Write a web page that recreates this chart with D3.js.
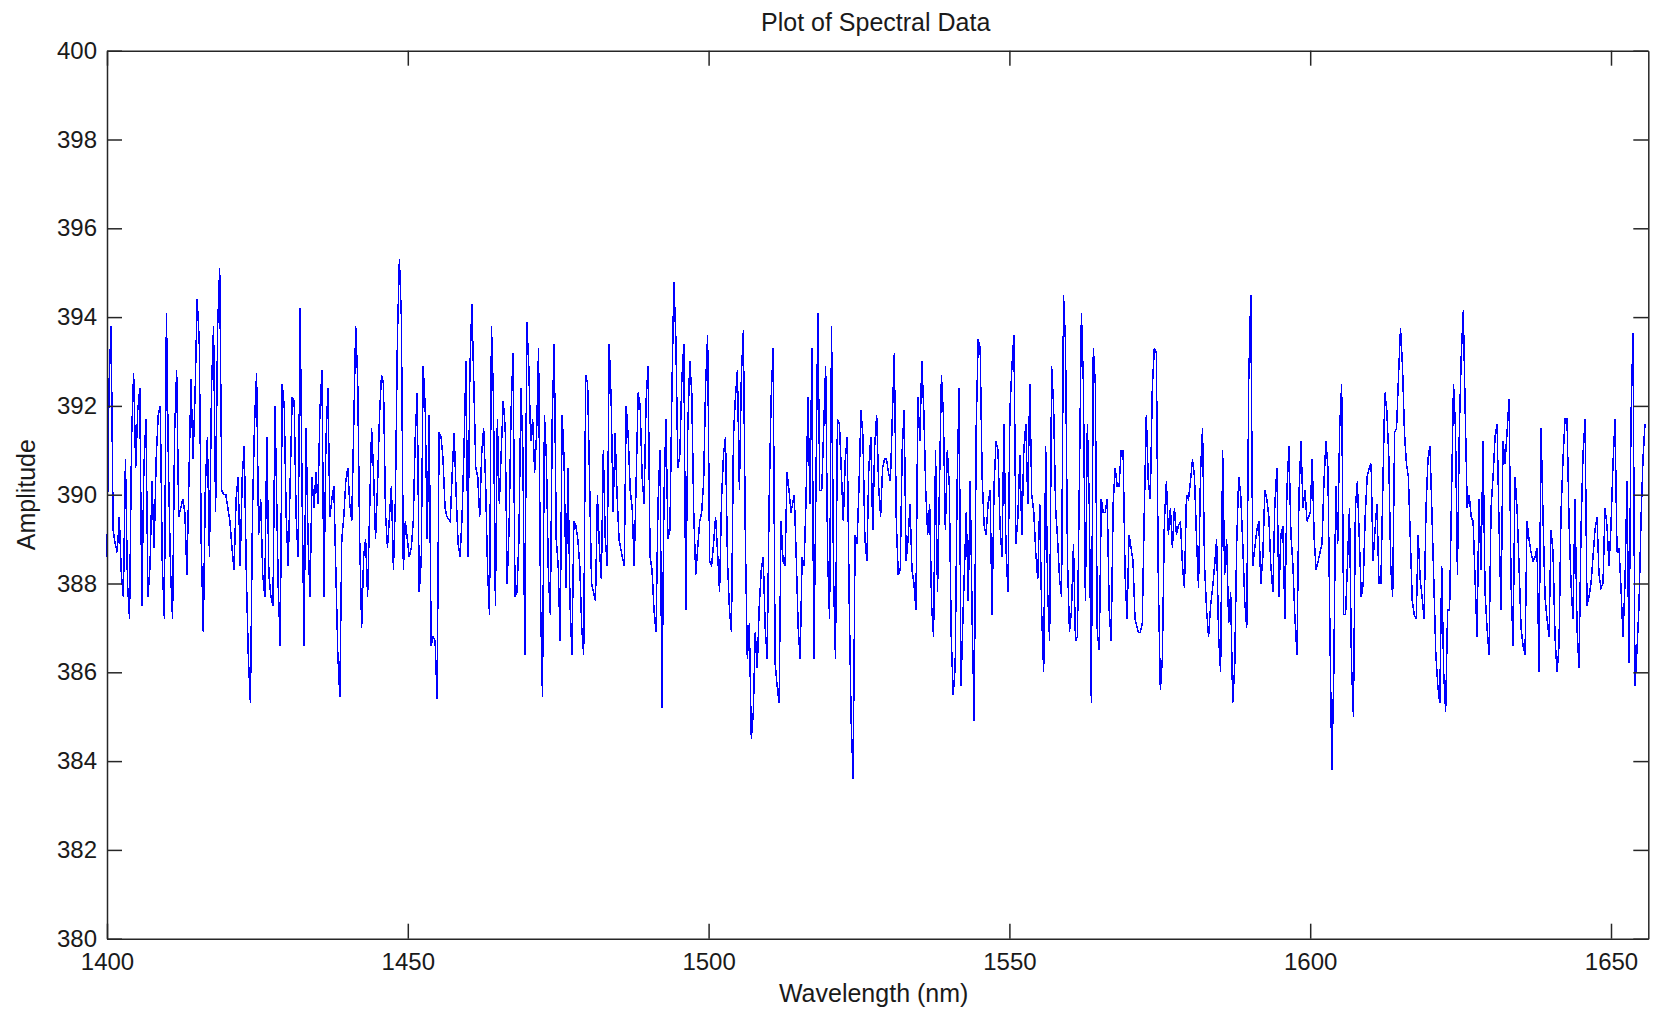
<!DOCTYPE html>
<html>
<head>
<meta charset="utf-8">
<script src="https://cdn.jsdelivr.net/npm/d3@7"></script>
<style>
  body { margin: 0; background: #fff; }
  text { font-family: "Liberation Sans", Arial, sans-serif; fill: #1a1a1a; }
</style>
</head>
<body>
<div id="chart"></div>
<script>
var width = 1658,
    height = 1014;

// amplitude readings, one array per ~28.6 nm stretch of the spectrum
var amp1400 = [388.6, 392.5, 393.8, 389.2, 388.9, 388.7, 389.5, 388.2, 387.7, 390.8, 388.0, 387.2, 391.3, 392.75, 390.6, 391.9, 392.4, 387.5, 390.6, 391.7, 387.7, 388.4, 390.3, 388.8, 390.8, 391.8, 392.0, 388.4, 387.2, 394.1, 390.6, 388.3, 387.2, 391.4, 392.8, 389.5, 389.7, 389.9, 389.6, 388.2, 390.4, 392.6, 390.8, 392.3, 394.4, 393.5, 388.9, 386.9, 390.2, 391.3, 388.6, 392.4, 393.8, 389.6, 393.8, 395.1, 390.1, 390.0, 390.0, 389.7, 389.4, 388.8, 388.3, 389.9, 390.4, 388.4, 390.4, 391.1, 388.2, 386.3, 385.3, 389.6, 391.6, 392.75, 389.1, 389.9, 388.2, 387.7, 391.3, 388.2, 387.7, 387.5, 392.0];
var amp1428 = [387.9, 386.6, 392.5, 392.0, 389.5, 388.4, 390.3, 392.2, 392.1, 389.5, 388.6, 394.2, 390.0, 386.6, 391.5, 389.0, 387.7, 390.4, 389.7, 390.5, 389.8, 391.9, 392.8, 387.7, 391.2, 392.4, 389.5, 389.9, 390.2, 388.3, 386.4, 385.45, 389.0, 389.5, 390.3, 390.6, 389.8, 389.4, 391.5, 393.8, 392.6, 389.0, 387.0, 388.6, 389.0, 387.7, 389.6, 391.5, 390.5, 389.0, 390.2, 391.8, 392.7, 392.5, 389.6, 388.8, 389.5, 390.2, 388.3, 389.9, 393.5, 395.3, 394.0, 388.3, 389.4, 389.0, 388.6, 388.8, 389.4, 391.3, 392.3, 387.8, 388.5, 392.9, 392.0, 389.0, 391.8, 386.6, 386.8, 386.7, 385.4, 391.4, 391.3, 390.8, 389.7, 389.5];
var amp1457 = [389.4, 390.5, 391.4, 390.0, 388.9, 388.6, 389.5, 391.0, 393.0, 388.6, 392.8, 394.3, 392.5, 390.6, 390.4, 389.5, 390.9, 391.5, 390.3, 388.3, 387.3, 393.8, 392.2, 387.5, 391.7, 389.8, 391.0, 392.1, 391.5, 388.0, 389.3, 391.9, 393.2, 387.7, 387.8, 389.0, 392.4, 391.0, 386.4, 393.9, 392.9, 391.2, 391.7, 390.5, 391.4, 393.3, 387.6, 385.45, 391.8, 390.8, 388.2, 387.3, 391.8, 393.4, 389.0, 388.4, 386.7, 391.8, 390.8, 387.9, 390.6, 387.6, 386.4, 389.4, 389.3, 389.0, 388.4, 387.0, 386.4, 392.7, 392.5, 390.3, 388.0, 387.8, 387.6, 390.0, 388.8, 388.1, 391.0, 389.0, 388.4, 393.4, 392.1, 389.6, 391.4, 390.0, 389.0];
var amp1486 = [388.6, 388.4, 392.0, 391.3, 390.1, 389.7, 388.4, 390.3, 392.3, 392.0, 390.4, 389.8, 392.1, 392.9, 388.6, 388.3, 387.4, 386.9, 389.8, 391.0, 385.2, 389.9, 391.7, 389.0, 389.2, 392.3, 394.8, 393.5, 390.6, 390.9, 392.6, 393.4, 387.4, 391.5, 393.0, 392.3, 389.6, 388.2, 388.8, 389.4, 389.6, 390.3, 392.5, 393.6, 388.5, 388.4, 388.9, 389.5, 388.7, 387.8, 389.9, 390.9, 391.3, 388.5, 387.4, 386.9, 391.3, 392.2, 392.8, 390.1, 392.7, 393.7, 389.0, 386.3, 387.1, 384.5, 385.1, 386.9, 386.1, 387.5, 388.3, 388.6, 387.0, 386.3, 389.9, 392.2, 393.3, 386.2, 385.7, 385.3, 389.4, 388.5, 388.4, 390.5, 390.1, 389.6];
var amp1514 = [390.0, 388.6, 387.0, 386.3, 388.6, 388.4, 389.9, 392.2, 389.8, 393.3, 386.3, 390.0, 394.1, 390.1, 390.1, 391.5, 392.9, 388.6, 387.2, 393.8, 388.2, 386.3, 391.7, 391.6, 390.5, 389.4, 390.8, 391.3, 387.6, 384.9, 383.6, 389.1, 388.9, 390.2, 391.9, 391.3, 389.0, 388.5, 390.6, 391.3, 389.2, 391.1, 391.8, 390.2, 389.5, 390.6, 390.8, 390.8, 390.5, 390.3, 391.8, 393.2, 389.4, 388.2, 388.3, 391.0, 391.9, 388.5, 389.0, 389.8, 388.3, 388.0, 387.4, 392.2, 391.2, 393.0, 391.9, 390.1, 389.1, 389.8, 387.5, 386.8, 391.0, 387.8, 390.2, 392.7, 391.8, 389.2, 391.0, 390.2, 386.8, 385.5, 386.1, 390.2, 392.4, 385.7, 387.3];
var amp1543 = [389.6, 387.6, 390.3, 387.1, 384.9, 391.5, 393.5, 393.3, 390.4, 389.3, 389.1, 389.8, 390.1, 387.3, 390.2, 391.2, 391.0, 389.3, 388.6, 391.6, 388.8, 387.8, 391.9, 392.9, 393.6, 388.9, 389.5, 390.9, 389.1, 391.0, 391.6, 389.8, 392.5, 390.0, 389.6, 388.7, 388.1, 389.8, 387.3, 386.0, 391.1, 387.8, 386.7, 392.9, 392.0, 389.7, 389.0, 388.1, 387.7, 394.5, 393.4, 388.5, 386.9, 387.4, 388.9, 386.7, 386.8, 390.4, 394.1, 392.5, 387.6, 391.6, 389.7, 385.3, 393.3, 392.5, 386.9, 386.5, 389.9, 389.6, 389.6, 389.9, 387.4, 386.7, 389.8, 390.6, 390.2, 390.2, 391.0, 391.0, 388.2, 387.2, 389.1, 388.8, 388.5, 387.2];
var amp1571 = [386.9, 386.9, 387.1, 389.6, 391.8, 390.3, 389.9, 392.4, 393.3, 393.2, 388.0, 385.6, 386.3, 389.4, 390.3, 389.1, 389.7, 388.8, 389.7, 389.1, 389.3, 389.4, 388.4, 387.9, 390.0, 389.9, 390.3, 390.8, 390.4, 389.0, 387.9, 390.5, 391.5, 388.4, 387.4, 386.8, 387.5, 387.9, 388.4, 389.0, 386.8, 386.0, 391.0, 388.2, 389.0, 387.1, 387.8, 385.3, 386.1, 388.9, 390.4, 390.0, 388.9, 387.6, 387.0, 392.6, 394.5, 388.4, 388.8, 389.2, 389.4, 388.0, 388.6, 390.1, 389.9, 389.5, 388.4, 387.8, 389.8, 390.6, 387.7, 389.1, 389.3, 387.2, 390.1, 391.1, 389.1, 388.4, 387.2, 386.4, 390.0, 391.2, 389.7, 390.1, 389.4];
var amp1600 = [389.6, 390.8, 389.0, 388.3, 388.5, 388.7, 388.9, 390.3, 391.2, 390.6, 387.0, 383.8, 386.0, 390.2, 388.9, 391.5, 392.5, 387.3, 387.3, 388.5, 389.7, 386.2, 385.0, 389.7, 390.3, 389.0, 387.7, 388.0, 389.5, 390.4, 390.6, 390.7, 388.5, 389.2, 389.8, 388.0, 388.0, 390.2, 392.3, 391.9, 390.9, 388.4, 387.7, 391.4, 391.5, 392.7, 393.75, 392.9, 391.4, 390.7, 390.4, 389.0, 387.6, 387.3, 387.2, 389.1, 388.1, 387.7, 387.2, 389.7, 390.8, 391.1, 389.6, 388.0, 386.4, 385.7, 385.3, 388.4, 386.0, 385.1, 387.4, 387.4, 390.0, 392.5, 391.5, 388.2, 391.5, 393.2, 394.15, 391.8, 389.7, 390.0, 389.5, 389.4, 388.1, 386.8, 389.9];
var amp1629 = [388.3, 391.2, 387.8, 387.0, 386.4, 389.7, 390.4, 391.3, 391.6, 389.3, 387.4, 391.2, 390.7, 391.4, 392.15, 388.0, 386.6, 390.4, 389.7, 388.4, 387.0, 386.6, 386.4, 389.4, 389.0, 388.7, 388.5, 388.6, 388.8, 386.0, 391.5, 389.5, 387.7, 387.2, 386.8, 389.2, 388.7, 386.8, 386.0, 386.6, 389.6, 390.8, 391.7, 391.7, 389.4, 388.0, 387.2, 389.9, 387.0, 386.1, 389.2, 390.9, 391.7, 387.5, 387.7, 388.0, 388.6, 389.2, 389.5, 388.2, 387.9, 388.0, 389.7, 389.3, 388.4, 389.3, 390.7, 391.7, 388.7, 388.8, 387.9, 386.8, 388.0, 390.3, 386.2, 391.7, 393.65, 385.7, 386.5, 387.5, 389.4, 390.8, 391.6];

// wavelength of first and last sample in each stretch
var stretchStart = [1400.0, 1428.47, 1457.06, 1485.65, 1514.24, 1542.83, 1571.42, 1600.01, 1628.40];
var stretchEnd   = [1427.93, 1456.52, 1485.11, 1513.70, 1542.29, 1570.88, 1599.47, 1628.06, 1655.65];

var xTicks = [1400, 1450, 1500, 1550, 1600, 1650];
var yTicks = [380, 382, 384, 386, 388, 390, 392, 394, 396, 398, 400];

var stretches = [amp1400, amp1428, amp1457, amp1486, amp1514, amp1543, amp1571, amp1600, amp1629];

// samples are evenly spaced inside each stretch
var spectrum = [];
stretches.forEach(function(vals, k) {
    var step = (stretchEnd[k] - stretchStart[k]) / (vals.length - 1);
    vals.forEach(function(v, j) {
        spectrum.push({ wl: stretchStart[k] + j * step, amp: v });
    });
});

// plot box (don't call these top/left: window.top is read-only)
var boxL = 107, boxR = 1648.3, boxT = 50.7, boxB = 938.7;

var x = d3.scaleLinear()
    .domain([1400, 1656.2])
    .range([boxL, boxR]);

var y = d3.scaleLinear()
    .domain([380, 400])
    .range([boxB, boxT]);

var svg = d3.select("#chart").append("svg")
    .attr("width", width)
    .attr("height", height);

svg.append("rect")
    .attr("width", width)
    .attr("height", height)
    .attr("fill", "#fff");

// the spectrum itself, drawn aliased like the old matlab renderer
var line = d3.line()
    .x(function(d) { return x(d.wl); })
    .y(function(d) { return y(d.amp); });

svg.append("path")
    .datum(spectrum)
    .attr("d", line)
    .attr("fill", "none")
    .attr("stroke", "#0000ff")
    .attr("stroke-width", 1.5)
    .attr("shape-rendering", "crispEdges");

// axes, matlab style: box on, ticks pointing inward
function styleAxis(g) {
    g.selectAll("path.domain").attr("stroke", "#262626").attr("stroke-width", 1.5).attr("fill", "none");
    g.selectAll(".tick line").attr("stroke", "#262626").attr("stroke-width", 1.5);
    g.selectAll(".tick text")
        .attr("fill", "#1a1a1a")
        .style("font-size", "24px")
        .style("font-family", "'Liberation Sans', Arial, sans-serif");
}

svg.append("g")
    .attr("transform", "translate(0," + boxB + ")")
    .call(d3.axisBottom(x).tickValues(xTicks).tickFormat(d3.format("d"))
        .tickSizeInner(-15).tickSizeOuter(0).tickPadding(14))
    .call(styleAxis);

svg.append("g")
    .attr("transform", "translate(0," + boxT + ")")
    .call(d3.axisTop(x).tickValues(xTicks).tickFormat("")
        .tickSizeInner(-15).tickSizeOuter(0))
    .call(styleAxis);

svg.append("g")
    .attr("transform", "translate(" + boxL + ",0)")
    .call(d3.axisLeft(y).tickValues(yTicks).tickFormat(d3.format("d"))
        .tickSizeInner(-15).tickSizeOuter(0).tickPadding(10))
    .call(styleAxis);

svg.append("g")
    .attr("transform", "translate(" + boxR + ",0)")
    .call(d3.axisRight(y).tickValues(yTicks).tickFormat("")
        .tickSizeInner(-15).tickSizeOuter(0))
    .call(styleAxis);

// labels
svg.append("text")
    .attr("x", (boxL + boxR) / 2 - 2)
    .attr("y", 31)
    .attr("text-anchor", "middle")
    .style("font-size", "25px")
    .text("Plot of Spectral Data");

svg.append("text")
    .attr("x", (boxL + boxR) / 2 - 4)
    .attr("y", 1002)
    .attr("text-anchor", "middle")
    .style("font-size", "25px")
    .text("Wavelength (nm)");

svg.append("text")
    .attr("transform", "translate(35," + (boxT + boxB) / 2 + ")rotate(-90)")
    .attr("text-anchor", "middle")
    .style("font-size", "25px")
    .text("Amplitude");
</script>
</body>
</html>
